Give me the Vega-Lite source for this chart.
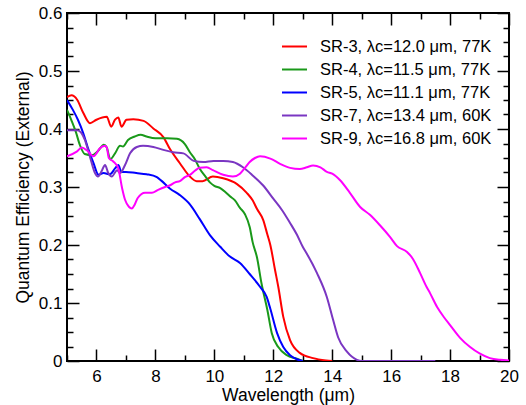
{
  "$schema": "https://vega.github.io/schema/vega-lite/v6.json",
  "width": 442,
  "height": 348,
  "autosize": {"type": "none"},
  "padding": {"left": 67, "top": 13, "right": 17, "bottom": 44},
  "config": {
    "font": "Liberation Sans",
    "view": {"stroke": "black", "strokeWidth": 2},
    "axis": {"domain": false, "grid": false, "tickColor": "black", "tickWidth": 1.5, "labelColor": "black", "titleColor": "black", "titleFontWeight": "normal"}
  },
  "data": {"values": [
    {"s":"SR-3, λc=12.0 μm, 77K","x":5.0,"y":0.455},{"s":"SR-3, λc=12.0 μm, 77K","x":5.15,"y":0.458},{"s":"SR-3, λc=12.0 μm, 77K","x":5.35,"y":0.45},{"s":"SR-3, λc=12.0 μm, 77K","x":5.55,"y":0.428},{"s":"SR-3, λc=12.0 μm, 77K","x":5.78,"y":0.41},{"s":"SR-3, λc=12.0 μm, 77K","x":6.0,"y":0.416},{"s":"SR-3, λc=12.0 μm, 77K","x":6.35,"y":0.421},{"s":"SR-3, λc=12.0 μm, 77K","x":6.5,"y":0.404},{"s":"SR-3, λc=12.0 μm, 77K","x":6.63,"y":0.416},{"s":"SR-3, λc=12.0 μm, 77K","x":6.74,"y":0.42},{"s":"SR-3, λc=12.0 μm, 77K","x":6.85,"y":0.404},{"s":"SR-3, λc=12.0 μm, 77K","x":7.02,"y":0.416},{"s":"SR-3, λc=12.0 μm, 77K","x":7.25,"y":0.417},{"s":"SR-3, λc=12.0 μm, 77K","x":7.6,"y":0.414},{"s":"SR-3, λc=12.0 μm, 77K","x":7.93,"y":0.401},{"s":"SR-3, λc=12.0 μm, 77K","x":8.27,"y":0.386},{"s":"SR-3, λc=12.0 μm, 77K","x":8.5,"y":0.365},{"s":"SR-3, λc=12.0 μm, 77K","x":8.83,"y":0.341},{"s":"SR-3, λc=12.0 μm, 77K","x":9.17,"y":0.318},{"s":"SR-3, λc=12.0 μm, 77K","x":9.4,"y":0.31},{"s":"SR-3, λc=12.0 μm, 77K","x":9.6,"y":0.31},{"s":"SR-3, λc=12.0 μm, 77K","x":9.95,"y":0.318},{"s":"SR-3, λc=12.0 μm, 77K","x":10.3,"y":0.315},{"s":"SR-3, λc=12.0 μm, 77K","x":10.77,"y":0.305},{"s":"SR-3, λc=12.0 μm, 77K","x":11.1,"y":0.29},{"s":"SR-3, λc=12.0 μm, 77K","x":11.3,"y":0.277},{"s":"SR-3, λc=12.0 μm, 77K","x":11.45,"y":0.262},{"s":"SR-3, λc=12.0 μm, 77K","x":11.66,"y":0.243},{"s":"SR-3, λc=12.0 μm, 77K","x":11.8,"y":0.218},{"s":"SR-3, λc=12.0 μm, 77K","x":11.9,"y":0.2},{"s":"SR-3, λc=12.0 μm, 77K","x":12.06,"y":0.157},{"s":"SR-3, λc=12.0 μm, 77K","x":12.17,"y":0.128},{"s":"SR-3, λc=12.0 μm, 77K","x":12.34,"y":0.076},{"s":"SR-3, λc=12.0 μm, 77K","x":12.57,"y":0.036},{"s":"SR-3, λc=12.0 μm, 77K","x":12.9,"y":0.014},{"s":"SR-3, λc=12.0 μm, 77K","x":13.35,"y":0.005},{"s":"SR-3, λc=12.0 μm, 77K","x":13.8,"y":0.001},{"s":"SR-3, λc=12.0 μm, 77K","x":14.0,"y":0},
    {"s":"SR-4, λc=11.5 μm, 77K","x":5.0,"y":0.433},{"s":"SR-4, λc=11.5 μm, 77K","x":5.15,"y":0.415},{"s":"SR-4, λc=11.5 μm, 77K","x":5.3,"y":0.395},{"s":"SR-4, λc=11.5 μm, 77K","x":5.44,"y":0.372},{"s":"SR-4, λc=11.5 μm, 77K","x":5.6,"y":0.357},{"s":"SR-4, λc=11.5 μm, 77K","x":5.85,"y":0.355},{"s":"SR-4, λc=11.5 μm, 77K","x":6.05,"y":0.362},{"s":"SR-4, λc=11.5 μm, 77K","x":6.25,"y":0.373},{"s":"SR-4, λc=11.5 μm, 77K","x":6.35,"y":0.368},{"s":"SR-4, λc=11.5 μm, 77K","x":6.47,"y":0.348},{"s":"SR-4, λc=11.5 μm, 77K","x":6.63,"y":0.358},{"s":"SR-4, λc=11.5 μm, 77K","x":6.8,"y":0.371},{"s":"SR-4, λc=11.5 μm, 77K","x":6.9,"y":0.37},{"s":"SR-4, λc=11.5 μm, 77K","x":7.07,"y":0.381},{"s":"SR-4, λc=11.5 μm, 77K","x":7.3,"y":0.387},{"s":"SR-4, λc=11.5 μm, 77K","x":7.5,"y":0.39},{"s":"SR-4, λc=11.5 μm, 77K","x":7.7,"y":0.387},{"s":"SR-4, λc=11.5 μm, 77K","x":8.0,"y":0.384},{"s":"SR-4, λc=11.5 μm, 77K","x":8.4,"y":0.384},{"s":"SR-4, λc=11.5 μm, 77K","x":8.73,"y":0.383},{"s":"SR-4, λc=11.5 μm, 77K","x":9.0,"y":0.374},{"s":"SR-4, λc=11.5 μm, 77K","x":9.17,"y":0.36},{"s":"SR-4, λc=11.5 μm, 77K","x":9.34,"y":0.348},{"s":"SR-4, λc=11.5 μm, 77K","x":9.5,"y":0.332},{"s":"SR-4, λc=11.5 μm, 77K","x":9.7,"y":0.318},{"s":"SR-4, λc=11.5 μm, 77K","x":9.85,"y":0.308},{"s":"SR-4, λc=11.5 μm, 77K","x":10.0,"y":0.302},{"s":"SR-4, λc=11.5 μm, 77K","x":10.2,"y":0.298},{"s":"SR-4, λc=11.5 μm, 77K","x":10.4,"y":0.29},{"s":"SR-4, λc=11.5 μm, 77K","x":10.53,"y":0.284},{"s":"SR-4, λc=11.5 μm, 77K","x":10.7,"y":0.277},{"s":"SR-4, λc=11.5 μm, 77K","x":10.87,"y":0.264},{"s":"SR-4, λc=11.5 μm, 77K","x":11.04,"y":0.253},{"s":"SR-4, λc=11.5 μm, 77K","x":11.2,"y":0.231},{"s":"SR-4, λc=11.5 μm, 77K","x":11.3,"y":0.205},{"s":"SR-4, λc=11.5 μm, 77K","x":11.45,"y":0.178},{"s":"SR-4, λc=11.5 μm, 77K","x":11.6,"y":0.134},{"s":"SR-4, λc=11.5 μm, 77K","x":11.8,"y":0.088},{"s":"SR-4, λc=11.5 μm, 77K","x":11.95,"y":0.048},{"s":"SR-4, λc=11.5 μm, 77K","x":12.17,"y":0.024},{"s":"SR-4, λc=11.5 μm, 77K","x":12.46,"y":0.01},{"s":"SR-4, λc=11.5 μm, 77K","x":12.8,"y":0.004},{"s":"SR-4, λc=11.5 μm, 77K","x":13.0,"y":0},
    {"s":"SR-5, λc=11.1 μm, 77K","x":5.0,"y":0.45},{"s":"SR-5, λc=11.1 μm, 77K","x":5.2,"y":0.433},{"s":"SR-5, λc=11.1 μm, 77K","x":5.37,"y":0.416},{"s":"SR-5, λc=11.1 μm, 77K","x":5.55,"y":0.393},{"s":"SR-5, λc=11.1 μm, 77K","x":5.7,"y":0.369},{"s":"SR-5, λc=11.1 μm, 77K","x":5.9,"y":0.341},{"s":"SR-5, λc=11.1 μm, 77K","x":6.07,"y":0.321},{"s":"SR-5, λc=11.1 μm, 77K","x":6.24,"y":0.324},{"s":"SR-5, λc=11.1 μm, 77K","x":6.46,"y":0.322},{"s":"SR-5, λc=11.1 μm, 77K","x":6.63,"y":0.332},{"s":"SR-5, λc=11.1 μm, 77K","x":6.74,"y":0.338},{"s":"SR-5, λc=11.1 μm, 77K","x":6.85,"y":0.326},{"s":"SR-5, λc=11.1 μm, 77K","x":7.0,"y":0.326},{"s":"SR-5, λc=11.1 μm, 77K","x":7.35,"y":0.324},{"s":"SR-5, λc=11.1 μm, 77K","x":7.7,"y":0.322},{"s":"SR-5, λc=11.1 μm, 77K","x":8.05,"y":0.317},{"s":"SR-5, λc=11.1 μm, 77K","x":8.2,"y":0.311},{"s":"SR-5, λc=11.1 μm, 77K","x":8.5,"y":0.297},{"s":"SR-5, λc=11.1 μm, 77K","x":8.83,"y":0.286},{"s":"SR-5, λc=11.1 μm, 77K","x":9.17,"y":0.27},{"s":"SR-5, λc=11.1 μm, 77K","x":9.5,"y":0.245},{"s":"SR-5, λc=11.1 μm, 77K","x":9.85,"y":0.217},{"s":"SR-5, λc=11.1 μm, 77K","x":10.2,"y":0.197},{"s":"SR-5, λc=11.1 μm, 77K","x":10.53,"y":0.18},{"s":"SR-5, λc=11.1 μm, 77K","x":10.87,"y":0.169},{"s":"SR-5, λc=11.1 μm, 77K","x":11.2,"y":0.15},{"s":"SR-5, λc=11.1 μm, 77K","x":11.55,"y":0.128},{"s":"SR-5, λc=11.1 μm, 77K","x":11.78,"y":0.11},{"s":"SR-5, λc=11.1 μm, 77K","x":11.9,"y":0.09},{"s":"SR-5, λc=11.1 μm, 77K","x":12.13,"y":0.048},{"s":"SR-5, λc=11.1 μm, 77K","x":12.34,"y":0.024},{"s":"SR-5, λc=11.1 μm, 77K","x":12.57,"y":0.01},{"s":"SR-5, λc=11.1 μm, 77K","x":12.8,"y":0.003},{"s":"SR-5, λc=11.1 μm, 77K","x":13.0,"y":0},
    {"s":"SR-7, λc=13.4 μm, 60K","x":5.0,"y":0.398},{"s":"SR-7, λc=13.4 μm, 60K","x":5.35,"y":0.398},{"s":"SR-7, λc=13.4 μm, 60K","x":5.61,"y":0.381},{"s":"SR-7, λc=13.4 μm, 60K","x":5.78,"y":0.352},{"s":"SR-7, λc=13.4 μm, 60K","x":5.95,"y":0.324},{"s":"SR-7, λc=13.4 μm, 60K","x":6.05,"y":0.318},{"s":"SR-7, λc=13.4 μm, 60K","x":6.19,"y":0.329},{"s":"SR-7, λc=13.4 μm, 60K","x":6.29,"y":0.338},{"s":"SR-7, λc=13.4 μm, 60K","x":6.4,"y":0.324},{"s":"SR-7, λc=13.4 μm, 60K","x":6.52,"y":0.318},{"s":"SR-7, λc=13.4 μm, 60K","x":6.7,"y":0.329},{"s":"SR-7, λc=13.4 μm, 60K","x":6.8,"y":0.324},{"s":"SR-7, λc=13.4 μm, 60K","x":6.97,"y":0.338},{"s":"SR-7, λc=13.4 μm, 60K","x":7.14,"y":0.358},{"s":"SR-7, λc=13.4 μm, 60K","x":7.37,"y":0.369},{"s":"SR-7, λc=13.4 μm, 60K","x":7.58,"y":0.371},{"s":"SR-7, λc=13.4 μm, 60K","x":7.93,"y":0.369},{"s":"SR-7, λc=13.4 μm, 60K","x":8.27,"y":0.364},{"s":"SR-7, λc=13.4 μm, 60K","x":8.6,"y":0.36},{"s":"SR-7, λc=13.4 μm, 60K","x":8.95,"y":0.358},{"s":"SR-7, λc=13.4 μm, 60K","x":9.3,"y":0.345},{"s":"SR-7, λc=13.4 μm, 60K","x":9.63,"y":0.343},{"s":"SR-7, λc=13.4 μm, 60K","x":9.97,"y":0.345},{"s":"SR-7, λc=13.4 μm, 60K","x":10.3,"y":0.345},{"s":"SR-7, λc=13.4 μm, 60K","x":10.63,"y":0.343},{"s":"SR-7, λc=13.4 μm, 60K","x":10.97,"y":0.334},{"s":"SR-7, λc=13.4 μm, 60K","x":11.3,"y":0.32},{"s":"SR-7, λc=13.4 μm, 60K","x":11.65,"y":0.303},{"s":"SR-7, λc=13.4 μm, 60K","x":12.0,"y":0.28},{"s":"SR-7, λc=13.4 μm, 60K","x":12.3,"y":0.26},{"s":"SR-7, λc=13.4 μm, 60K","x":12.57,"y":0.238},{"s":"SR-7, λc=13.4 μm, 60K","x":12.8,"y":0.218},{"s":"SR-7, λc=13.4 μm, 60K","x":13.0,"y":0.197},{"s":"SR-7, λc=13.4 μm, 60K","x":13.14,"y":0.185},{"s":"SR-7, λc=13.4 μm, 60K","x":13.48,"y":0.152},{"s":"SR-7, λc=13.4 μm, 60K","x":13.82,"y":0.11},{"s":"SR-7, λc=13.4 μm, 60K","x":14.03,"y":0.071},{"s":"SR-7, λc=13.4 μm, 60K","x":14.2,"y":0.041},{"s":"SR-7, λc=13.4 μm, 60K","x":14.5,"y":0.016},{"s":"SR-7, λc=13.4 μm, 60K","x":14.84,"y":0.002},{"s":"SR-7, λc=13.4 μm, 60K","x":15.0,"y":0},{"s":"SR-7, λc=13.4 μm, 60K","x":17.5,"y":0},
    {"s":"SR-9, λc=16.8 μm, 60K","x":5.0,"y":0.353},{"s":"SR-9, λc=16.8 μm, 60K","x":5.33,"y":0.361},{"s":"SR-9, λc=16.8 μm, 60K","x":5.5,"y":0.368},{"s":"SR-9, λc=16.8 μm, 60K","x":5.7,"y":0.362},{"s":"SR-9, λc=16.8 μm, 60K","x":5.9,"y":0.353},{"s":"SR-9, λc=16.8 μm, 60K","x":6.0,"y":0.358},{"s":"SR-9, λc=16.8 μm, 60K","x":6.1,"y":0.366},{"s":"SR-9, λc=16.8 μm, 60K","x":6.29,"y":0.371},{"s":"SR-9, λc=16.8 μm, 60K","x":6.35,"y":0.368},{"s":"SR-9, λc=16.8 μm, 60K","x":6.42,"y":0.35},{"s":"SR-9, λc=16.8 μm, 60K","x":6.57,"y":0.344},{"s":"SR-9, λc=16.8 μm, 60K","x":6.74,"y":0.332},{"s":"SR-9, λc=16.8 μm, 60K","x":6.87,"y":0.298},{"s":"SR-9, λc=16.8 μm, 60K","x":6.97,"y":0.278},{"s":"SR-9, λc=16.8 μm, 60K","x":7.1,"y":0.266},{"s":"SR-9, λc=16.8 μm, 60K","x":7.2,"y":0.263},{"s":"SR-9, λc=16.8 μm, 60K","x":7.3,"y":0.27},{"s":"SR-9, λc=16.8 μm, 60K","x":7.4,"y":0.281},{"s":"SR-9, λc=16.8 μm, 60K","x":7.65,"y":0.29},{"s":"SR-9, λc=16.8 μm, 60K","x":7.88,"y":0.29},{"s":"SR-9, λc=16.8 μm, 60K","x":8.09,"y":0.295},{"s":"SR-9, λc=16.8 μm, 60K","x":8.33,"y":0.3},{"s":"SR-9, λc=16.8 μm, 60K","x":8.5,"y":0.303},{"s":"SR-9, λc=16.8 μm, 60K","x":8.67,"y":0.308},{"s":"SR-9, λc=16.8 μm, 60K","x":8.83,"y":0.31},{"s":"SR-9, λc=16.8 μm, 60K","x":9.0,"y":0.317},{"s":"SR-9, λc=16.8 μm, 60K","x":9.17,"y":0.321},{"s":"SR-9, λc=16.8 μm, 60K","x":9.34,"y":0.328},{"s":"SR-9, λc=16.8 μm, 60K","x":9.5,"y":0.333},{"s":"SR-9, λc=16.8 μm, 60K","x":9.74,"y":0.334},{"s":"SR-9, λc=16.8 μm, 60K","x":9.95,"y":0.329},{"s":"SR-9, λc=16.8 μm, 60K","x":10.3,"y":0.321},{"s":"SR-9, λc=16.8 μm, 60K","x":10.63,"y":0.318},{"s":"SR-9, λc=16.8 μm, 60K","x":10.87,"y":0.323},{"s":"SR-9, λc=16.8 μm, 60K","x":11.04,"y":0.333},{"s":"SR-9, λc=16.8 μm, 60K","x":11.2,"y":0.343},{"s":"SR-9, λc=16.8 μm, 60K","x":11.38,"y":0.35},{"s":"SR-9, λc=16.8 μm, 60K","x":11.55,"y":0.353},{"s":"SR-9, λc=16.8 μm, 60K","x":11.9,"y":0.349},{"s":"SR-9, λc=16.8 μm, 60K","x":12.23,"y":0.34},{"s":"SR-9, λc=16.8 μm, 60K","x":12.57,"y":0.333},{"s":"SR-9, λc=16.8 μm, 60K","x":12.9,"y":0.331},{"s":"SR-9, λc=16.8 μm, 60K","x":13.14,"y":0.334},{"s":"SR-9, λc=16.8 μm, 60K","x":13.35,"y":0.337},{"s":"SR-9, λc=16.8 μm, 60K","x":13.6,"y":0.334},{"s":"SR-9, λc=16.8 μm, 60K","x":13.82,"y":0.326},{"s":"SR-9, λc=16.8 μm, 60K","x":14.0,"y":0.323},{"s":"SR-9, λc=16.8 μm, 60K","x":14.26,"y":0.312},{"s":"SR-9, λc=16.8 μm, 60K","x":14.6,"y":0.29},{"s":"SR-9, λc=16.8 μm, 60K","x":14.94,"y":0.266},{"s":"SR-9, λc=16.8 μm, 60K","x":15.28,"y":0.252},{"s":"SR-9, λc=16.8 μm, 60K","x":15.62,"y":0.234},{"s":"SR-9, λc=16.8 μm, 60K","x":15.96,"y":0.214},{"s":"SR-9, λc=16.8 μm, 60K","x":16.2,"y":0.198},{"s":"SR-9, λc=16.8 μm, 60K","x":16.54,"y":0.188},{"s":"SR-9, λc=16.8 μm, 60K","x":16.74,"y":0.176},{"s":"SR-9, λc=16.8 μm, 60K","x":16.98,"y":0.152},{"s":"SR-9, λc=16.8 μm, 60K","x":17.2,"y":0.128},{"s":"SR-9, λc=16.8 μm, 60K","x":17.32,"y":0.117},{"s":"SR-9, λc=16.8 μm, 60K","x":17.56,"y":0.093},{"s":"SR-9, λc=16.8 μm, 60K","x":17.8,"y":0.075},{"s":"SR-9, λc=16.8 μm, 60K","x":18.0,"y":0.062},{"s":"SR-9, λc=16.8 μm, 60K","x":18.34,"y":0.04},{"s":"SR-9, λc=16.8 μm, 60K","x":18.68,"y":0.024},{"s":"SR-9, λc=16.8 μm, 60K","x":19.0,"y":0.013},{"s":"SR-9, λc=16.8 μm, 60K","x":19.35,"y":0.005},{"s":"SR-9, λc=16.8 μm, 60K","x":19.7,"y":0.002},{"s":"SR-9, λc=16.8 μm, 60K","x":20.0,"y":0.001}
  ]},
  "layer": [
    {
      "mark": {"type": "line", "strokeWidth": 2, "interpolate": "monotone", "clip": true},
      "encoding": {
        "x": {"field": "x", "type": "quantitative",
          "scale": {"domain": [5, 20], "nice": false, "zero": false},
          "axis": {"orient": "bottom", "values": [5,6,7,8,9,10,11,12,13,14,15,16,17,18,19,20],
            "tickSize": {"condition": {"test": "datum.value % 2 == 0", "value": -12}, "value": -6},
            "labelExpr": "datum.value % 2 == 0 ? datum.label : ''",
            "labelFontSize": 17, "labelPadding": 19, "labelFlush": false,
            "title": "Wavelength (μm)", "titleFontSize": 17.5, "titlePadding": 2}},
        "y": {"field": "y", "type": "quantitative",
          "scale": {"domain": [0, 0.6], "nice": false},
          "axis": {"orient": "left", "values": [0,0.025,0.05,0.075,0.1,0.125,0.15,0.175,0.2,0.225,0.25,0.275,0.3,0.325,0.35,0.375,0.4,0.425,0.45,0.475,0.5,0.525,0.55,0.575,0.6],
            "tickSize": {"condition": {"test": "round(datum.value*40) % 4 == 0", "value": -12}, "value": -6},
            "labelExpr": "round(datum.value*40) % 4 == 0 ? datum.label : ''",
            "format": "~g", "labelFontSize": 17, "labelPadding": 17, "labelFlush": false,
            "title": "Quantum Efficiency (External)", "titleFontSize": 17.5, "titlePadding": 6}},
        "color": {"field": "s", "type": "nominal",
          "scale": {"domain": ["SR-3, λc=12.0 μm, 77K","SR-4, λc=11.5 μm, 77K","SR-5, λc=11.1 μm, 77K","SR-7, λc=13.4 μm, 60K","SR-9, λc=16.8 μm, 60K"],
            "range": ["#ff0000", "#1a991a", "#0000ff", "#7a36c2", "#ff00ff"]},
          "legend": {"orient": "none", "legendX": 214, "legendY": 20, "title": null, "padding": 0,
            "symbolType": "stroke", "symbolSize": 625, "symbolStrokeWidth": 2,
            "labelFontSize": 16.5, "labelColor": "black", "labelOffset": 12, "rowPadding": 1, "labelLimit": 400}}
      }
    },
    {
      "mark": {"type": "line", "opacity": 0},
      "encoding": {
        "x": {"field": "x", "type": "quantitative",
          "axis": {"orient": "top", "values": [5,6,7,8,9,10,11,12,13,14,15,16,17,18,19,20],
            "tickSize": {"condition": {"test": "datum.value % 2 == 0", "value": -12}, "value": -6},
            "labels": false, "title": null}},
        "y": {"field": "y", "type": "quantitative",
          "axis": {"orient": "right", "values": [0,0.025,0.05,0.075,0.1,0.125,0.15,0.175,0.2,0.225,0.25,0.275,0.3,0.325,0.35,0.375,0.4,0.425,0.45,0.475,0.5,0.525,0.55,0.575,0.6],
            "tickSize": {"condition": {"test": "round(datum.value*40) % 4 == 0", "value": -12}, "value": -6},
            "labels": false, "title": null}}
      }
    }
  ],
  "resolve": {"axis": {"x": "independent", "y": "independent"}}
}
